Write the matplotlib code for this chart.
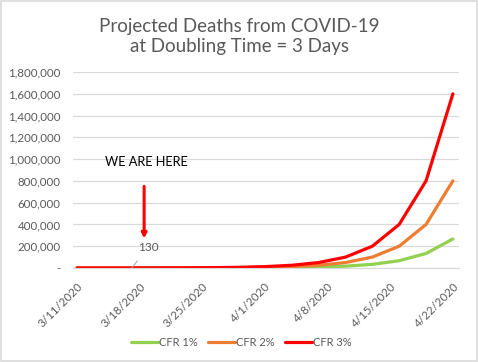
import matplotlib
matplotlib.use("Agg")
import matplotlib.pyplot as plt
import pandas as pd
from matplotlib.patches import Rectangle

plt.rcParams['font.family'] = ['Lato', 'DejaVu Sans']

dates = ["3/11/2020", "3/14/2020", "3/17/2020", "3/20/2020", "3/23/2020",
         "3/26/2020", "3/29/2020", "4/1/2020", "4/4/2020", "4/7/2020",
         "4/10/2020", "4/13/2020", "4/16/2020", "4/19/2020", "4/22/2020"]
cfr1 = [16, 33, 65, 130, 260, 521, 1042, 2083, 4167, 8333,
        16667, 33333, 66667, 133333, 266667]
cfr2 = [49, 98, 195, 391, 781, 1563, 3125, 6250, 12500, 25000,
        50000, 100000, 200000, 400000, 800000]
cfr3 = [98, 195, 391, 781, 1563, 3125, 6250, 12500, 25000, 50000,
        100000, 200000, 400000, 800000, 1600000]
tick_dates = ["3/11/2020", "3/18/2020", "3/25/2020", "4/1/2020",
              "4/8/2020", "4/15/2020", "4/22/2020"]
yticks = [0, 200000, 400000, 600000, 800000, 1000000, 1200000,
          1400000, 1600000, 1800000]

start = pd.to_datetime(dates[0])
xs = [(pd.to_datetime(d) - start).days for d in dates]
xt = [(pd.to_datetime(d) - start).days for d in tick_dates]

fig = plt.figure(figsize=(4.78, 3.62), dpi=100)
fig.patches.append(Rectangle((0.002, 0.003), 0.996, 0.994, transform=fig.transFigure,
                             fill=False, edgecolor='#d9d9d9', lw=1.2))
ax = fig.add_axes([0.1527, 0.2597, 0.8073, 0.5413])

ax.plot(xs, cfr1, color='#92d050', lw=2.3, label='CFR 1%', solid_capstyle='round')
ax.plot(xs, cfr2, color='#ed7d31', lw=2.3, label='CFR 2%', solid_capstyle='round')
ax.plot(xs, cfr3, color='#ff0000', lw=2.3, label='CFR 3%', solid_capstyle='round')

ax.set_xlim(-0.45, 42.67)
ax.set_ylim(0, 1800000)
ax.set_yticks(yticks)
ax.set_yticklabels(['-'] + [f"{v:,}" for v in yticks[1:]])
ax.set_xticks(xt)
ax.set_xticklabels(tick_dates, rotation=45, ha='right', rotation_mode='anchor')
ax.grid(axis='y', color='#d9d9d9', lw=0.9)
ax.set_axisbelow(True)
for s in ['top', 'right', 'left']:
    ax.spines[s].set_visible(False)
ax.spines['bottom'].set_color('#d9d9d9')
ax.tick_params(axis='y', length=0, pad=9, labelsize=8.3, labelcolor='#595959')
ax.tick_params(axis='x', length=0, pad=9, labelsize=8.3, labelcolor='#595959')

fig.text(0.5, 0.899, "Projected Deaths from COVID-19\nat Doubling Time = 3 Days",
         ha='center', va='center', fontsize=13.5, color='#595959', linespacing=1.18)

ax.text(3.1, 970000, "WE ARE HERE", fontsize=9.2, color='black', va='center')
ax.annotate("", xy=(7.5, 270000), xytext=(7.5, 750000),
            arrowprops=dict(arrowstyle='-|>', color='#ff0000', lw=2.2,
                            mutation_scale=7, shrinkA=0, shrinkB=0))
ax.annotate("130", xy=(6.1, 0), xytext=(8.0, 190000), fontsize=8.5, color='#595959',
            ha='center', va='center',
            arrowprops=dict(arrowstyle='-', color='#a6a6a6', lw=0.7, shrinkA=5, shrinkB=0))

fig.legend(loc='center', bbox_to_anchor=(0.505, 0.055), ncol=3, frameon=False,
           fontsize=8.0, labelcolor='#595959', handlelength=2.4, columnspacing=0.9,
           handletextpad=0.15)

fig.savefig("out.png", dpi=100)
